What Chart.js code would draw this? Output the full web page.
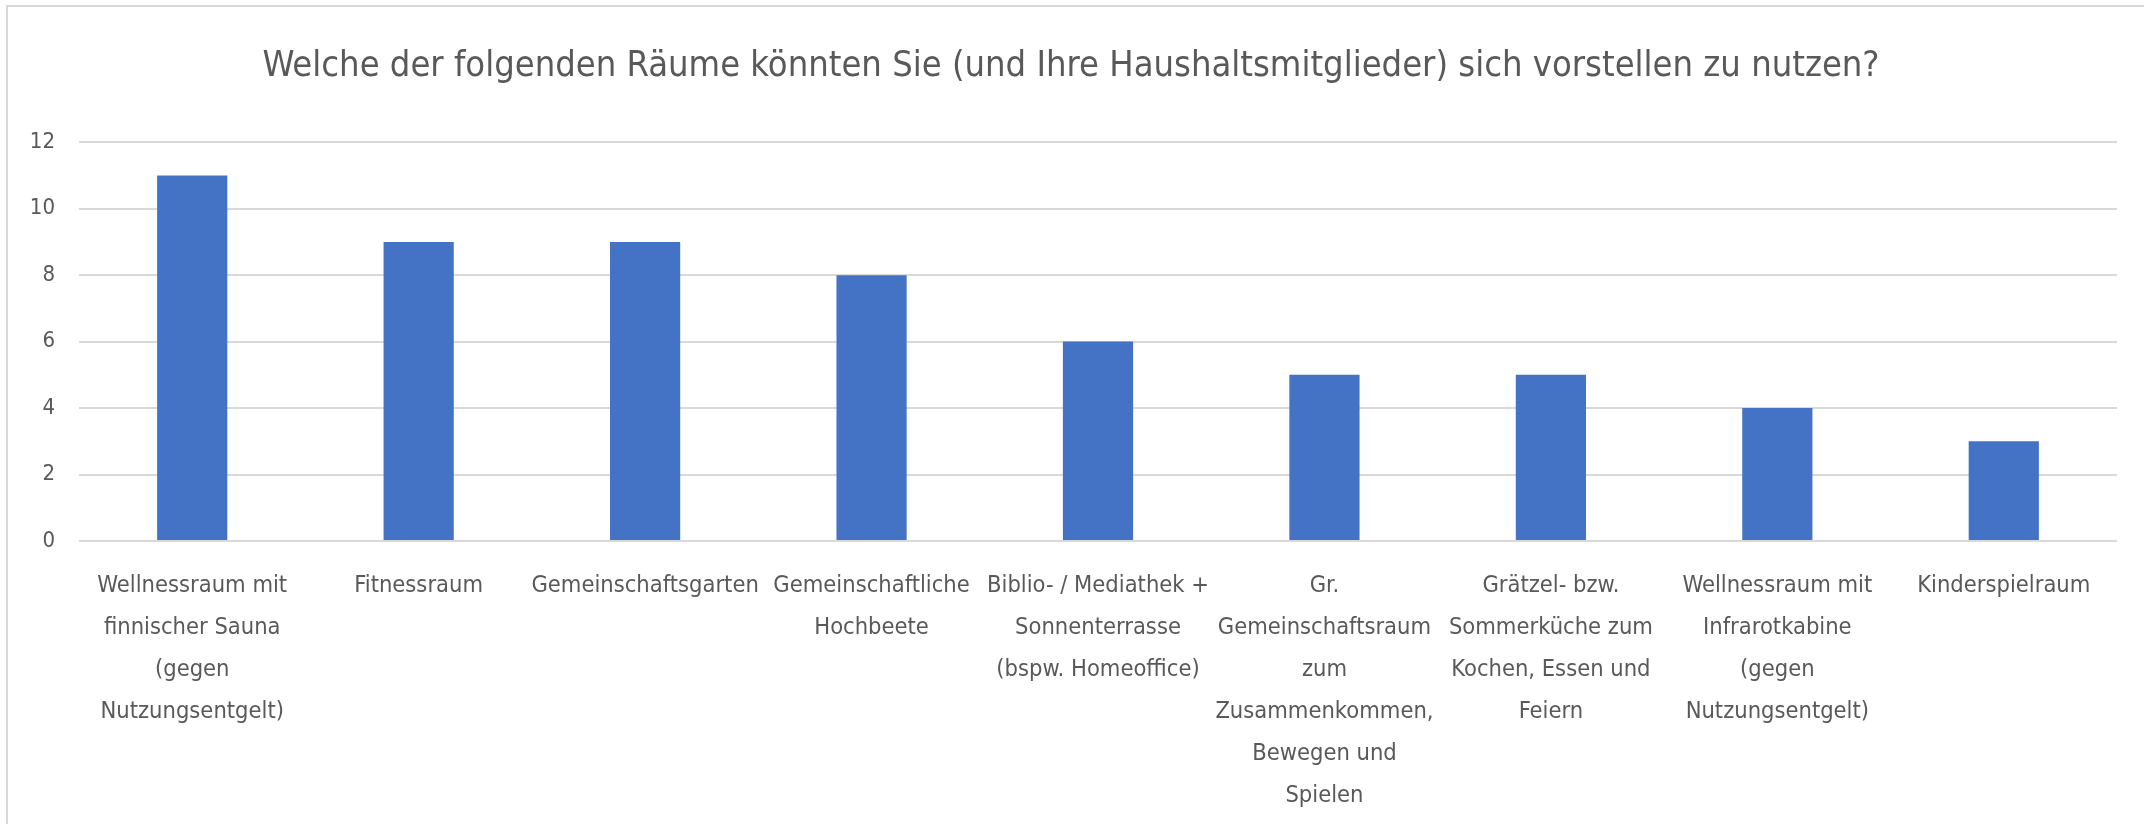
<!DOCTYPE html>
<html lang="de">
<head>
<meta charset="utf-8">
<script src="https://cdn.jsdelivr.net/npm/chart.js@4.4.1/dist/chart.umd.min.js"></script>
<style>
  html, body { margin: 0; padding: 0; background: #fff; overflow: hidden; }
  #frame {
    position: absolute; left: 6px; top: 5px; width: 2300px; height: 1000px;
    border: 2px solid #d9d9d9; box-sizing: border-box;
  }
  #wrap { position: absolute; left: 0; top: 0; width: 2144px; height: 824px; }
</style>
</head>
<body>
<div id="frame"></div>
<div id="wrap"><canvas id="chart"></canvas></div>
<script>
// Räume, die sich die Befragten vorstellen können zu nutzen
const raeume = [
  ["Wellnessraum mit", "finnischer Sauna", "(gegen", "Nutzungsentgelt)"],
  ["Fitnessraum"],
  ["Gemeinschaftsgarten"],
  ["Gemeinschaftliche", "Hochbeete"],
  ["Biblio- / Mediathek +", "Sonnenterrasse", "(bspw. Homeoffice)"],
  ["Gr.", "Gemeinschaftsraum", "zum", "Zusammenkommen,", "Bewegen und", "Spielen"],
  ["Grätzel- bzw.", "Sommerküche zum", "Kochen, Essen und", "Feiern"],
  ["Wellnessraum mit", "Infrarotkabine", "(gegen", "Nutzungsentgelt)"],
  ["Kinderspielraum"],
];
const anzahl = [11, 9, 9, 8, 6, 5, 5, 4, 3];
const yTicks = [0, 2, 4, 6, 8, 10, 12];

const titel = "Welche der folgenden Räume könnten Sie (und Ihre Haushaltsmitglieder) sich vorstellen zu nutzen?";

const FONT = '"Liberation Sans Narrow", "DejaVu Sans Condensed", "Open Sans", sans-serif';
const TEXT = "#595959";
const PAD_LEFT = 25;

const canvas = document.getElementById("chart");
const ctx = canvas.getContext("2d");

new Chart(ctx, {
  type: "bar",
  data: {
    labels: raeume,
    datasets: [{
      data: anzahl,
      backgroundColor: "#4472c4",
      borderWidth: 0,
      categoryPercentage: 1,
      barPercentage: 0.31,
    }],
  },
  options: {
    responsive: true,
    maintainAspectRatio: false,
    animation: false,
    layout: { padding: { left: PAD_LEFT, right: 27, top: 0, bottom: 0 } },
    plugins: {
      legend: { display: false },
      tooltip: { enabled: false },
      title: {
        display: true,
        text: titel,
        color: TEXT,
        font: { family: FONT, size: 36, weight: "normal", lineHeight: 1.2 },
        padding: { top: 45, bottom: 54 },
      },
    },
    scales: {
      x: {
        grid: { display: false, drawTicks: false },
        border: { display: false },
        ticks: {
          color: TEXT,
          font: { family: FONT, size: 23.5, lineHeight: "42px" },
          padding: 24,
          maxRotation: 0,
          autoSkip: false,
        },
        afterFit: (scale) => { scale.height = 824 - 541; },
      },
      y: {
        min: 0,
        max: 12,
        afterBuildTicks: (scale) => { scale.ticks = yTicks.map((v) => ({ value: v })); },
        grid: { color: "#d9d9d9", lineWidth: 2, drawTicks: false },
        border: { display: false },
        ticks: {
          color: TEXT,
          font: { family: FONT, size: 22 },
          padding: 24,
        },
        afterFit: (scale) => { scale.width = 79 - PAD_LEFT; },
      },
    },
  },
});
</script>
</body>
</html>
